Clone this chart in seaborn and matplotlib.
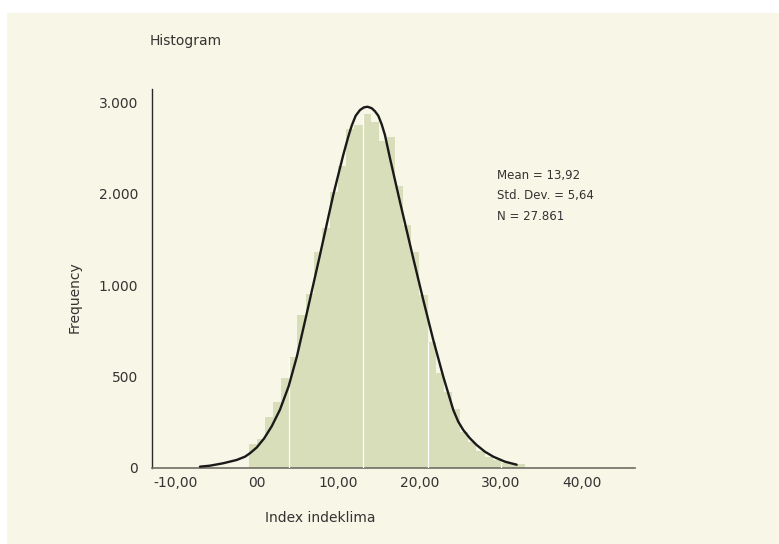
import numpy as np
import pandas as pd
import matplotlib
matplotlib.use('Agg')
import matplotlib.pyplot as plt
import seaborn as sns

# Data (bin width 1, bins from -1 to 33)
bin_left = list(range(-1, 33))
counts = [192, 235, 414, 537, 734, 907, 1253, 1425, 1774, 1971,
          2262, 2481, 2785, 2815, 2909, 2843, 2687, 2716, 2313, 1993,
          1774, 1417, 1036, 781, 617, 485, 288, 211, 132, 90,
          58, 41, 33, 25]

# fitted curve as drawn in the reference
curve_x = [-6.98, -5.75, -4.12, -2.47, -1.45, -0.84, 0.00, 0.89, 1.83, 2.85,
           3.92, 4.94, 6.10, 7.77, 9.40, 10.63, 11.25, 11.67, 12.16, 12.69,
           13.18, 13.63, 14.13, 14.53, 14.94, 15.36, 15.76, 16.38, 17.60, 19.24,
           20.47, 21.70, 22.93, 24.16, 24.77, 25.39, 26.21, 27.03, 28.05, 29.08,
           30.51, 31.95]
curve_y = [7, 15, 35, 62, 89, 117, 165, 238, 338, 475,
           668, 915, 1254, 1748, 2241, 2570, 2721, 2811, 2893, 2940,
           2962, 2967, 2955, 2930, 2893, 2822, 2734, 2543, 2186, 1720,
           1378, 1049, 747, 473, 377, 308, 240, 185, 130, 89,
           48, 23]

xtick_vals = [-10, 0, 10, 20, 30, 40]
xtick_labels = ['-10,00', '00', '10,00', '20,00', '30,00', '40,00']
ytick_vals = [0, 750, 1500, 2250, 3000]
ytick_labels = ['0', '500', '1.000', '2.000', '3.000']

stats_lines = ['Mean = 13,92', 'Std. Dev. = 5,64', 'N = 27.861']

CREAM = '#F8F6E6'
BAR = '#D7DEB9'
TXT = '#333333'

sns.set_style('white')
plt.rcParams['font.family'] = ['DejaVu Sans']

fig = plt.figure(figsize=(7.79, 5.44), dpi=100, facecolor='white')
# cream panel (white margin on top and left)
fig.patches.append(plt.Rectangle((7 / 779, 0), 1, 1 - 13 / 544,
                                 transform=fig.transFigure, facecolor=CREAM,
                                 edgecolor='none', zorder=-10))

ax = fig.add_axes([152 / 779, (544 - 467.5) / 544, 483 / 779, 378.5 / 544])
ax.set_facecolor(CREAM)

df = pd.DataFrame({'x': [b + 0.5 for b in bin_left], 'n': counts})
edges = bin_left + [bin_left[-1] + 1]
sns.histplot(data=df, x='x', weights='n', bins=edges, ax=ax,
             color=BAR, edgecolor='none', alpha=1, linewidth=0)

# faint white seams seen inside the bars
seam_idx = [5, 14, 22, 31]
ax.vlines([bin_left[i] for i in seam_idx], 0, [counts[i] for i in seam_idx],
          color='white', linewidth=0.9, zorder=3)

curve = pd.DataFrame({'x': curve_x, 'y': curve_y})
sns.lineplot(data=curve, x='x', y='y', ax=ax, color='#1a1a1a',
             linewidth=1.7, sort=False, zorder=4)

ax.set_xlim(-12.88, 46.5)
ax.set_ylim(0, 3113)
ax.set_xticks(xtick_vals)
ax.set_xticklabels(xtick_labels)
ax.set_yticks(ytick_vals)
ax.set_yticklabels(ytick_labels)
ax.tick_params(axis='both', length=0, labelsize=10, colors=TXT)
ax.tick_params(axis='x', pad=6)
ax.tick_params(axis='y', pad=10)

ax.set_xlabel('')
ax.set_ylabel('')
for side in ['top', 'right']:
    ax.spines[side].set_visible(False)
ax.spines['left'].set_color('#2a2a2a')
ax.spines['left'].set_linewidth(1.0)
ax.spines['bottom'].set_color('#6e6e64')
ax.spines['bottom'].set_linewidth(1.2)

fig.text(150 / 779, 1 - 41 / 544, 'Histogram', fontsize=10, color=TXT,
         ha='left', va='center')
fig.text(320 / 779, 1 - 518 / 544, 'Index indeklima', fontsize=10, color=TXT,
         ha='center', va='center')
fig.text(75 / 779, 1 - 297 / 544, 'Frequency', fontsize=10, color=TXT,
         ha='center', va='center', rotation=90)

for i, line in enumerate(stats_lines):
    fig.text(497 / 779, 1 - (175 + i * 20.8) / 544, line, fontsize=8.5,
             color=TXT, ha='left', va='center')

fig.savefig('out.png', dpi=100, facecolor='white')
